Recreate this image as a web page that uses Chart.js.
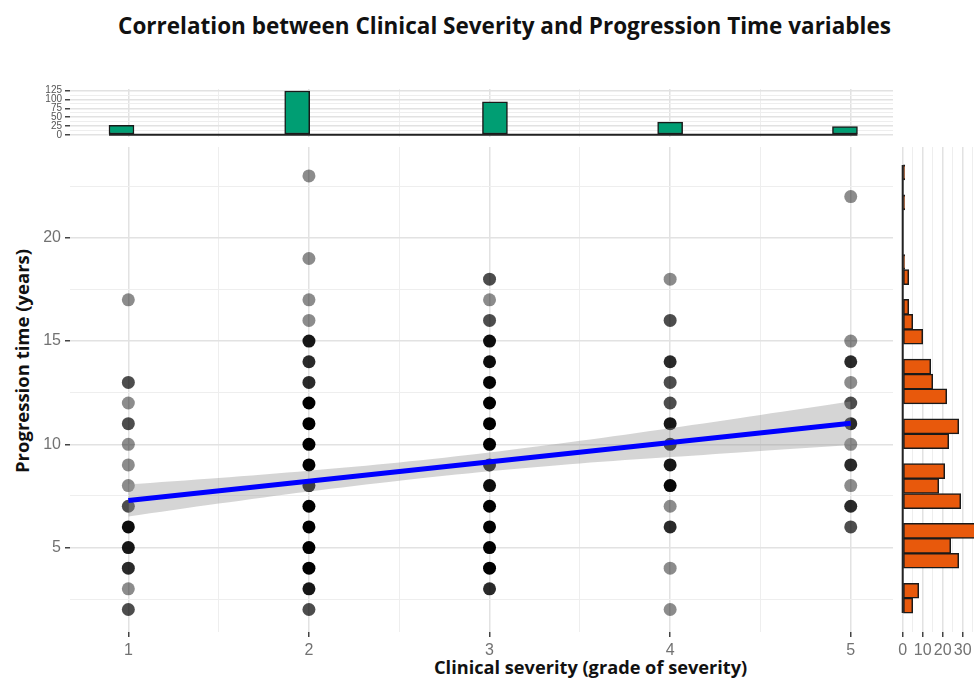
<!DOCTYPE html>
<html>
<head>
<meta charset="utf-8">
<title>Correlation between Clinical Severity and Progression Time variables</title>
<script src="https://cdn.jsdelivr.net/npm/chart.js@4.4.1/dist/chart.umd.min.js"></script>
<style>
  html, body { margin: 0; padding: 0; background: #fff; }
  body { width: 974px; height: 680px; position: relative; overflow: hidden; font-family: "Open Sans", sans-serif; }
  canvas { position: absolute; }
  .txt { position: absolute; font-weight: 700; color: #111; white-space: nowrap; }
  #title { left: 0; width: 1009px; top: 11px; text-align: center; font-size: 22.5px; line-height: 30px; }
  #ytitle { left: 21px; top: 361px; font-size: 18.5px; transform: translate(-50%, -50%) rotate(-90deg); }
  #xtitle { left: 434px; top: 654px; font-size: 18.2px; line-height: 26px; }
</style>
</head>
<body>
<div class="txt" id="title">Correlation between Clinical Severity and Progression Time variables</div>
<div class="txt" id="ytitle">Progression time (years)</div>
<div class="txt" id="xtitle">Clinical severity (grade of severity)</div>

<canvas id="mainChart" width="974" height="680" style="left:0;top:0"></canvas>
<canvas id="topChart" width="974" height="145" style="left:0;top:0"></canvas>
<canvas id="rightChart" width="100" height="680" style="left:880px;top:0"></canvas>

<script>
// scatter: progression time (years) per severity grade, with how many patients sit on each dot
var sev1Time  = [17, 13, 12, 11, 10, 9, 8, 7, 6, 5, 4, 3, 2];
var sev1Count = [1, 2, 1, 2, 1, 1, 1, 2, 5, 4, 3, 1, 2];
var sev2Time  = [23, 19, 17, 16, 15, 14, 13, 12, 11, 10, 9, 8, 7, 6, 5, 4, 3, 2];
var sev2Count = [1, 1, 1, 1, 4, 3, 3, 12, 11, 10, 8, 7, 12, 14, 11, 12, 4, 2];
var sev3Time  = [18, 17, 16, 15, 14, 13, 12, 11, 10, 9, 8, 7, 6, 5, 4, 3];
var sev3Count = [2, 1, 2, 5, 5, 7, 8, 9, 9, 6, 5, 11, 13, 10, 12, 3];
var sev4Time  = [18, 16, 14, 13, 12, 11, 10, 9, 8, 7, 6, 4, 2];
var sev4Count = [1, 2, 3, 2, 2, 4, 4, 4, 6, 1, 3, 1, 1];
var sev5Time  = [22, 15, 14, 13, 12, 11, 10, 9, 8, 7, 6];
var sev5Count = [1, 1, 3, 1, 2, 3, 1, 3, 1, 3, 2];

// linear fit and its confidence band
var fitX = [1, 5];
var fitY = [7.28, 11.02];
var bandX    = [1, 1.5, 2, 2.5, 3, 3.5, 4, 4.5, 5];
var bandLow  = [6.50, 7.13, 7.72, 8.24, 8.70, 9.07, 9.38, 9.68, 9.97];
var bandHigh = [8.06, 8.37, 8.72, 9.12, 9.60, 10.17, 10.78, 11.42, 12.07];

// top marginal histogram (severity)
var topBinCenter = [0.962, 1.935, 3.03, 4.0, 4.968];
var topCount = [27, 124, 93, 36, 23];
var topBinWidth = 0.138;

// right marginal histogram (progression time)
var rightBinCenter = [2.19, 2.91, 4.36, 5.08, 5.81, 7.25, 7.98, 8.70, 10.15, 10.87,
                      12.32, 13.04, 13.76, 15.21, 15.93, 16.66, 18.10, 18.83, 21.72, 23.17];
var rightCount = [5, 8, 28, 24, 37, 29, 18, 21, 23, 28, 22, 15, 14, 10, 5, 3, 3, 1, 1, 1];
var rightBinWidth = 0.723;

// axis ticks
var xMajor = [1, 2, 3, 4, 5];
var xMinor = [1.5, 2.5, 3.5, 4.5];
var yMajor = [5, 10, 15, 20];
var yMinor = [2.5, 7.5, 12.5, 17.5, 22.5];
var topMajor = [0, 25, 50, 75, 100, 125];
var topMinor = [12.5, 37.5, 62.5, 87.5, 112.5];
var rightMajor = [0, 10, 20, 30];
var rightMinor = [5, 15, 25, 35];

Chart.defaults.font.family = "'Liberation Sans', Arial, sans-serif";
Chart.defaults.animation = false;
Chart.defaults.events = [];

var X_RANGE = { min: 0.677, max: 5.234 };
var Y_RANGE = { min: 0.91, max: 24.40 };

function isMajor(major, ctx) {
  return !!ctx.tick && major.indexOf(ctx.tick.value) >= 0;
}

function gridScale(range, major, minor, extra) {
  var s = {
    type: 'linear',
    min: range.min,
    max: range.max,
    offset: false,
    border: { display: false },
    afterBuildTicks: function (scale) {
      scale.ticks = major.concat(minor).sort(function (a, b) { return a - b; })
        .map(function (v) { return { value: v }; });
    },
    grid: {
      offset: false,
      color: function (ctx) { return isMajor(major, ctx) ? '#e2e2e2' : '#eeeeee'; },
      lineWidth: function (ctx) { return isMajor(major, ctx) ? 1.5 : 1; },
      tickColor: function (ctx) { return isMajor(major, ctx) ? '#444' : 'rgba(0,0,0,0)'; },
      tickWidth: 1.5,
      tickLength: 5
    },
    ticks: {
      autoSkip: false,
      maxRotation: 0,
      padding: 4,
      color: '#727272',
      font: { size: 16 },
      callback: function (v) { return major.indexOf(v) >= 0 ? String(v) : ''; }
    }
  };
  for (var k in extra) s[k] = extra[k];
  return s;
}

function greyFor(n) {
  return 'rgba(0,0,0,' + (1 - Math.pow(0.55, n)).toFixed(3) + ')';
}

// build the scatter points
var sevTimes = [sev1Time, sev2Time, sev3Time, sev4Time, sev5Time];
var sevCounts = [sev1Count, sev2Count, sev3Count, sev4Count, sev5Count];
var points = [], pointColors = [];
for (var s = 0; s < sevTimes.length; s++) {
  for (var i = 0; i < sevTimes[s].length; i++) {
    points.push({ x: s + 1, y: sevTimes[s][i] });
    pointColors.push(greyFor(sevCounts[s][i]));
  }
}

function xy(xs, ys) {
  return xs.map(function (x, i) { return { x: x, y: ys[i] }; });
}

new Chart(document.getElementById('mainChart'), {
  type: 'scatter',
  data: {
    datasets: [
      {
        type: 'line', data: xy(fitX, fitY),
        borderColor: '#0000ff', borderWidth: 5, pointRadius: 0, fill: false
      },
      {
        type: 'line', data: xy(bandX, bandHigh),
        borderColor: 'rgba(0,0,0,0)', pointRadius: 0, tension: 0.3,
        fill: '+1', backgroundColor: 'rgba(150,150,150,0.4)'
      },
      {
        type: 'line', data: xy(bandX, bandLow),
        borderColor: 'rgba(0,0,0,0)', pointRadius: 0, tension: 0.3, fill: false
      },
      {
        data: points,
        pointRadius: 6.5,
        pointBorderWidth: 0,
        pointBackgroundColor: pointColors,
        pointBorderColor: 'rgba(0,0,0,0)'
      }
    ]
  },
  options: {
    responsive: false,
    layout: { padding: { top: 147, right: 81, bottom: 0, left: 0 } },
    plugins: { legend: { display: false }, tooltip: { enabled: false } },
    scales: {
      x: gridScale(X_RANGE, xMajor, xMinor, {
        afterFit: function (scale) { scale.height = 48; }
      }),
      y: gridScale(Y_RANGE, yMajor, yMinor, {
        afterFit: function (scale) { scale.width = 70; }
      })
    }
  }
});

// top marginal: counts by severity
var topEdges = [topBinCenter[0] - topBinWidth / 2, topBinCenter[topBinCenter.length - 1] + topBinWidth / 2];
var topScaleY = gridScale({ min: -6.25, max: 129.6 }, topMajor, topMinor, {
  afterFit: function (scale) { scale.width = 70; }
});
topScaleY.ticks.font = { size: 10, lineHeight: 1 };
topScaleY.ticks.padding = 3;
topScaleY.ticks.color = '#555';
var topScaleX = gridScale(X_RANGE, xMajor, xMinor, {
  afterFit: function (scale) { scale.height = 0; }
});
topScaleX.ticks.display = false;
topScaleX.grid.drawTicks = false;

new Chart(document.getElementById('topChart'), {
  type: 'bar',
  data: {
    datasets: [
      {
        type: 'line', data: xy(topEdges, [0, 0]),
        borderColor: '#222', borderWidth: 2, pointRadius: 0
      },
      {
        data: xy(topBinCenter, topCount),
        backgroundColor: '#009e73',
        borderColor: '#1a1a1a',
        borderWidth: 1.5,
        borderSkipped: false,
        barThickness: 25
      }
    ]
  },
  options: {
    responsive: false,
    layout: { padding: { top: 89, right: 81, bottom: 6, left: 0 } },
    plugins: { legend: { display: false }, tooltip: { enabled: false } },
    scales: { x: topScaleX, y: topScaleY }
  }
});

// right marginal: counts by progression time
var rightEdges = [rightBinCenter[0] - rightBinWidth / 2, rightBinCenter[rightBinCenter.length - 1] + rightBinWidth / 2];
var rightScaleX = gridScale({ min: -1.85, max: 38.65 }, rightMajor, rightMinor, {
  afterFit: function (scale) { scale.height = 48; }
});
var rightScaleY = { type: 'linear', display: false, offset: false, min: Y_RANGE.min, max: Y_RANGE.max };

new Chart(document.getElementById('rightChart'), {
  type: 'bar',
  data: {
    datasets: [
      {
        type: 'line', data: xy([0, 0], rightEdges),
        borderColor: '#222', borderWidth: 2, pointRadius: 0
      },
      {
        data: xy(rightCount, rightBinCenter),
        backgroundColor: '#e8590c',
        borderColor: '#1a1a1a',
        borderWidth: 1.5,
        borderSkipped: false,
        barThickness: 15
      }
    ]
  },
  options: {
    responsive: false,
    indexAxis: 'y',
    layout: { padding: { top: 147, right: 0, bottom: 0, left: 19 } },
    plugins: { legend: { display: false }, tooltip: { enabled: false } },
    scales: { x: rightScaleX, y: rightScaleY }
  }
});
</script>
</body>
</html>
